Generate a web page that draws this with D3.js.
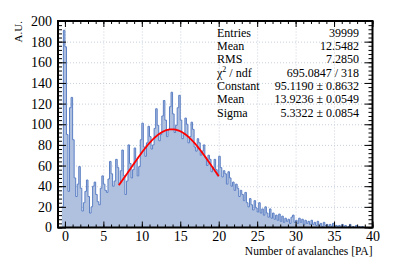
<!DOCTYPE html>
<head>
  <meta charset="utf-8">
  <script src="https://d3js.org/d3.v7.min.js"></script>
  <style>
    body { margin: 0; background: #fff; }
    svg { display: block; font-family: "Liberation Serif", "DejaVu Serif", serif; }
  </style>
</head>
<body>
<script type="text/javascript">

// histogram: bins of 0.2 PA starting at -0.4
var binStart = -0.4;
var binWidth = 0.2;
var counts = [
  20, 191,
  175, 90, 35, 116, 126,
  85, 48, 30, 42, 59,
  38, 16, 24, 35, 46,
  30, 14, 20, 40, 44,
  32, 25, 22, 38, 50,
  42, 36, 34, 47, 64,
  52, 40, 45, 66, 58,
  42, 55, 75, 50, 32,
  45, 80, 62, 48, 56,
  77, 66, 50, 59, 85,
  101, 78, 69, 82, 98,
  88, 76, 80, 96, 115,
  99, 84, 90, 108, 123,
  104, 88, 95, 117, 131,
  110, 92, 99, 116, 128,
  104, 86, 90, 106, 100,
  82, 88, 102, 95, 78,
  74, 86, 82, 70, 74,
  80, 68, 60, 70, 66,
  54, 58, 66, 56, 50,
  69, 58, 49, 55, 52,
  42, 54, 48, 40, 44,
  36, 42, 38, 30, 36,
  32, 26, 34, 24, 20,
  28, 22, 17, 26, 19,
  15, 24, 14, 18, 12,
  20, 14, 10, 18, 9,
  14, 8, 12, 7, 13,
  6, 11, 5, 9, 6,
  8, 4, 10, 12, 5,
  7, 4, 9, 5, 8,
  3, 7, 4, 6, 3,
  7, 3, 5, 2, 6,
  2, 4, 1, 5, 2,
  3, 1, 3, 1, 4,
  1, 2, 1, 2, 0,
  3, 1, 2, 0, 1,
  3, 0, 1, 0, 2,
  0, 1, 0, 1, 0,
  0, 0, 0, 0, 0
];

// gaussian fit shown in the stats box
var fitConstant = 95.1190;
var fitMean = 13.9236;
var fitSigma = 5.3322;
var fitRange = [7, 20];

var xTicks = [0, 5, 10, 15, 20, 25, 30, 35, 40];
var yTicks = [0, 20, 40, 60, 80, 100, 120, 140, 160, 180, 200];

var statLabels = ["Entries", "Mean", "RMS", "chi2", "Constant", "Mean", "Sigma"];
var statValues = ["39999", "12.5482", "7.2850", "695.0847 / 318",
                  "95.1190 \u00b1 0.8632", "13.9236 \u00b1 0.0549", "5.3322 \u00b1 0.0854"];

var width = 415, height = 259;
var margin = { top: 21, left: 58, bottom: 31.5, right: 42.5 };

var svg = d3.select("body").append("svg")
  .attr("width", width)
  .attr("height", height);

var x = d3.scaleLinear().domain([-0.9, 40]).range([margin.left, width - margin.right]);
var y = d3.scaleLinear().domain([0, 200]).range([height - margin.bottom, margin.top]);

var x0 = margin.left, x1 = width - margin.right;
var y0 = height - margin.bottom, y1 = margin.top;

// grid
svg.append("g")
  .attr("transform", "translate(0," + y0 + ")")
  .call(d3.axisBottom(x).tickValues(xTicks.slice(0, -1)).tickSize(-(y0 - y1)).tickFormat(""))
  .call(g => g.select(".domain").remove())
  .selectAll("line").attr("stroke", "#c8d0dc").attr("stroke-dasharray", "1,2");
svg.append("g")
  .attr("transform", "translate(" + x0 + ",0)")
  .call(d3.axisLeft(y).tickValues(yTicks.slice(1, -1)).tickSize(-(x1 - x0)).tickFormat(""))
  .call(g => g.select(".domain").remove())
  .selectAll("line").attr("stroke", "#c8d0dc").attr("stroke-dasharray", "1,2");

// histogram as a step outline
var pts = counts.map(function (c, i) { return [binStart + i * binWidth, c]; });
pts.push([binStart + counts.length * binWidth, counts[counts.length - 1]]);

var area = d3.area()
  .x(d => x(d[0])).y0(y(0)).y1(d => y(d[1]))
  .curve(d3.curveStepAfter);
var line = d3.line()
  .x(d => x(d[0])).y(d => y(d[1]))
  .curve(d3.curveStepAfter);

svg.append("path").datum(pts)
  .attr("d", area)
  .attr("fill", "#b0c1e0");
svg.append("path").datum(pts)
  .attr("d", line)
  .attr("fill", "none")
  .attr("stroke", "#5b7fc4")
  .attr("stroke-width", 1);

// fit curve
var fitX = d3.range(fitRange[0], fitRange[1] + 0.001, 0.1);
svg.append("path").datum(fitX)
  .attr("d", d3.line()
    .x(d => x(d))
    .y(d => y(fitConstant * Math.exp(-0.5 * Math.pow((d - fitMean) / fitSigma, 2)))))
  .attr("fill", "none")
  .attr("stroke", "#ff0000")
  .attr("stroke-width", 1.8);

// ticks, inward on all four sides
var xMinor = d3.range(0, 41, 1);
var yMinor = d3.range(0, 201, 4);

function tickStyle(g) {
  g.select(".domain").remove();
  g.selectAll("line").attr("stroke", "#000");
}

svg.append("g").attr("transform", "translate(0," + y0 + ")")
  .call(d3.axisBottom(x).tickValues(xMinor).tickSize(-3).tickFormat("")).call(tickStyle);
svg.append("g").attr("transform", "translate(0," + y0 + ")")
  .call(d3.axisBottom(x).tickValues(xTicks).tickSize(-6).tickPadding(4).tickFormat(d3.format("d")))
  .call(tickStyle)
  .selectAll("text").attr("font-size", 14).attr("font-family", "Liberation Serif").attr("fill", "#000");
svg.append("g").attr("transform", "translate(0," + y1 + ")")
  .call(d3.axisTop(x).tickValues(xMinor).tickSize(-3).tickFormat("")).call(tickStyle);
svg.append("g").attr("transform", "translate(0," + y1 + ")")
  .call(d3.axisTop(x).tickValues(xTicks).tickSize(-6).tickFormat("")).call(tickStyle);

svg.append("g").attr("transform", "translate(" + x0 + ",0)")
  .call(d3.axisLeft(y).tickValues(yMinor).tickSize(-4).tickFormat("")).call(tickStyle);
svg.append("g").attr("transform", "translate(" + x0 + ",0)")
  .call(d3.axisLeft(y).tickValues(yTicks).tickSize(-8).tickPadding(6).tickFormat(d3.format("d")))
  .call(tickStyle)
  .selectAll("text").attr("font-size", 14).attr("font-family", "Liberation Serif").attr("fill", "#000");
svg.append("g").attr("transform", "translate(" + x1 + ",0)")
  .call(d3.axisRight(y).tickValues(yMinor).tickSize(-4).tickFormat("")).call(tickStyle);
svg.append("g").attr("transform", "translate(" + x1 + ",0)")
  .call(d3.axisRight(y).tickValues(yTicks).tickSize(-8).tickFormat("")).call(tickStyle);

// frame
svg.append("rect")
  .attr("x", x0).attr("y", y1)
  .attr("width", x1 - x0).attr("height", y0 - y1)
  .attr("fill", "none").attr("stroke", "#000").attr("stroke-width", 2);

// axis titles
svg.append("text")
  .attr("x", x1).attr("y", 254.5)
  .attr("text-anchor", "end")
  .attr("font-size", 11.5)
  .text("Number of avalanches [PA]");
svg.append("text")
  .attr("transform", "translate(21.5," + y1 + ") rotate(-90)")
  .attr("text-anchor", "end")
  .attr("font-size", 11)
  .text("A.U.");

// stats
var stats = svg.append("g").attr("font-size", 12).attr("fill", "#000");
statLabels.forEach(function (lab, i) {
  var by = 36.7 + i * 13.33;
  var t = stats.append("text").attr("x", 217).attr("y", by);
  if (lab === "chi2") {
    t.append("tspan").text("\u03c7");
    t.append("tspan").attr("font-size", 8).attr("dy", -4.5).text("2");
    t.append("tspan").attr("dy", 4.5).text(" / ndf");
  } else {
    t.text(lab);
  }
  stats.append("text").attr("x", 359).attr("y", by)
    .attr("text-anchor", "end").text(statValues[i]);
});

</script>
</body>
